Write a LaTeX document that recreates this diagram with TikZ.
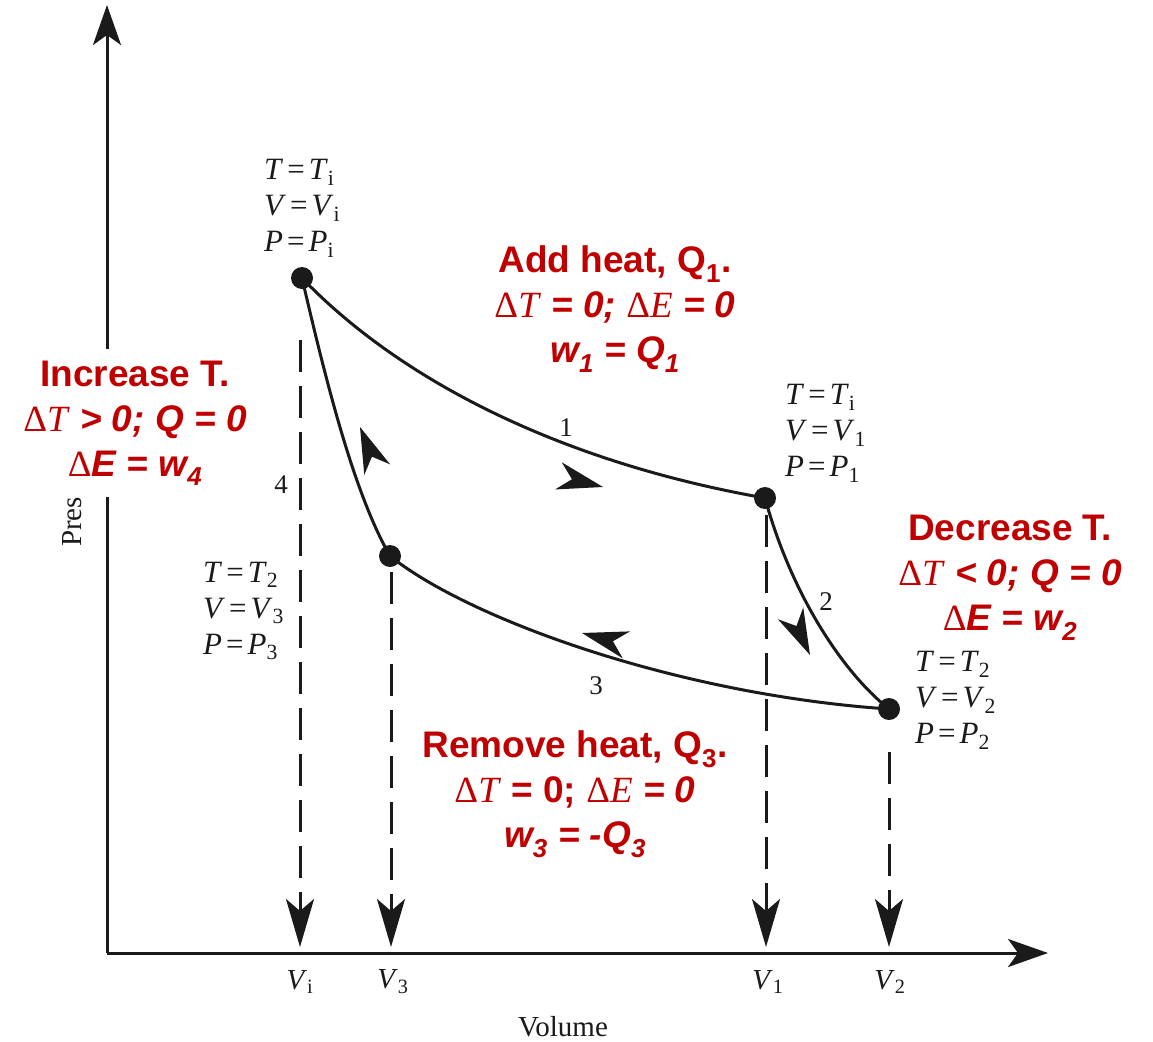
\documentclass[tikz,border=0pt]{standalone}
\usepackage{fontspec}
\setsansfont{Liberation Sans}
\newfontfamily\dserif{Liberation Serif}
\usetikzlibrary{arrows.meta}
\definecolor{hred}{RGB}{192,0,0}
\definecolor{ink}{RGB}{26,26,26}
\newcommand{\dlt}[1]{{\dserif\mdseries Δ\textit{#1}}}
\newcommand{\steq}[3]{\textit{#1}\hspace{4pt}=\hspace{4pt}\textit{#2}\textsubscript{#3}}
\begin{document}
\begin{tikzpicture}[x=1pt,y=-1pt,
  axis/.style={line width=3pt, draw=ink, -{Stealth[length=40pt,width=28pt,inset=10pt]}},
  curve/.style={line width=3pt, draw=ink},
  guide/.style={line width=3pt, draw=ink, dash pattern=on 32pt off 14pt, -{Stealth[length=48pt,width=28pt,inset=12pt]}},
  state/.style={circle, fill=ink, minimum size=22pt, inner sep=0pt},
  statelbl/.style={anchor=west, align=left, inner sep=0pt, text=ink, font=\dserif\fontsize{31}{36}\selectfont},
  numlbl/.style={font=\dserif\fontsize{27}{30}\selectfont, inner sep=0pt, text=ink},
  axlbl/.style={font=\dserif\fontsize{29}{32}\selectfont, inner sep=0pt, text=ink},
  note/.style={align=center, text=hred, font=\sffamily\bfseries\fontsize{37}{45}\selectfont, inner sep=4pt},
  head/.pic={\fill[ink] (0,0) -- (-46,14) -- (-32,0) -- (-46,-14) -- cycle;}
]
\useasboundingbox (0,0) rectangle (1153,1041);

% axes
\coordinate (o) at (107,953);
\coordinate (ytop) at (107,5);
\coordinate (xend) at (1048,953);
\draw[axis] (o) -- (ytop);
\draw[axis] (o) -- (xend);

% states
\node[state] (pi) at (302,278) {};
\node[state] (p1) at (765,498) {};
\node[state] (p3) at (390,556) {};
\node[state] (p2) at (889,709) {};

% cycle curves
\draw[curve] (pi.center) .. controls (400,380) and (560,462) .. (p1.center);
\draw[curve] (p1.center) .. controls (790,590) and (840,670) .. (p2.center);
\draw[curve] (p3.center) .. controls (470,620) and (680,695) .. (p2.center);
\draw[curve] (pi.center) .. controls (328,390) and (355,495) .. (p3.center);

% flow arrowheads
\pic[rotate=-14] at (603,487) {head};
\pic[rotate=112] at (360,427) {head};
\pic[rotate=-65] at (810,655) {head};
\pic[rotate=165] at (582,633) {head};

% guides
\coordinate (gi0) at (300,340);  \coordinate (gi1) at (300,947);
\coordinate (g30) at (391,572);  \coordinate (g31) at (391,947);
\coordinate (g10) at (766,515);  \coordinate (g11) at (766,947);
\coordinate (g20) at (889,752);  \coordinate (g21) at (889,947);
\draw[guide] (gi0) -- (gi1);
\draw[guide] (g30) -- (g31);
\draw[guide] (g10) -- (g11);
\draw[guide] (g20) -- (g21);

% state labels
\node[statelbl] (li) at (264,208) {\steq{T}{T}{i}\\\steq{V}{V}{i}\\\steq{P}{P}{i}};
\node[statelbl] (l1) at (785,433) {\steq{T}{T}{i}\\\steq{V}{V}{1}\\\steq{P}{P}{1}};
\node[statelbl] (l3) at (203,611) {\steq{T}{T}{2}\\\steq{V}{V}{3}\\\steq{P}{P}{3}};
\node[statelbl] (l2) at (915,700) {\steq{T}{T}{2}\\\steq{V}{V}{2}\\\steq{P}{P}{2}};

% path numbers
\node[numlbl] (n1) at (566,428) {1};
\node[numlbl] (n2) at (826,602) {2};
\node[numlbl] (n3) at (596,686) {3};
\node[numlbl] (n4) at (281,485) {4};

% axis labels
\node[axlbl] (vi) at (300,982) {\textit{V}\textsubscript{i}};
\node[axlbl] (v3) at (393,982) {\textit{V}\textsubscript{3}};
\node[axlbl] (v1) at (768,982) {\textit{V}\textsubscript{1}};
\node[axlbl] (v2) at (890,982) {\textit{V}\textsubscript{2}};
\node[axlbl] (vol) at (563,1027) {Volume};
\node[axlbl, rotate=90] (pres) at (72,522) {Pres};

% red notes
\node[note] (add) at (615,309) {Add heat, Q\textsubscript{1}.\\
  \dlt{T}\textit{ = 0; }\dlt{E}\textit{ = 0}\\
  \textit{w\textsubscript{1} = Q\textsubscript{1}}};
\node[note, fill=white, inner ysep=12pt] (inc) at (135,423) {Increase T.\\
  \dlt{T}\textit{ > 0; Q = 0}\\
  {\dserif\mdseries Δ}\textit{E = w\textsubscript{4}}};
\node[note] (dec) at (1010,578) {Decrease T.\\
  \dlt{T}\textit{ < 0; Q = 0}\\
  {\dserif\mdseries Δ}\textit{E = w\textsubscript{2}}};
\node[note] (rem) at (575,794) {Remove heat, Q\textsubscript{3}.\\
  \dlt{T} = 0; \dlt{E}\textit{ = 0}\\
  \textit{w\textsubscript{3} = -Q\textsubscript{3}}};
\end{tikzpicture}
\end{document}
